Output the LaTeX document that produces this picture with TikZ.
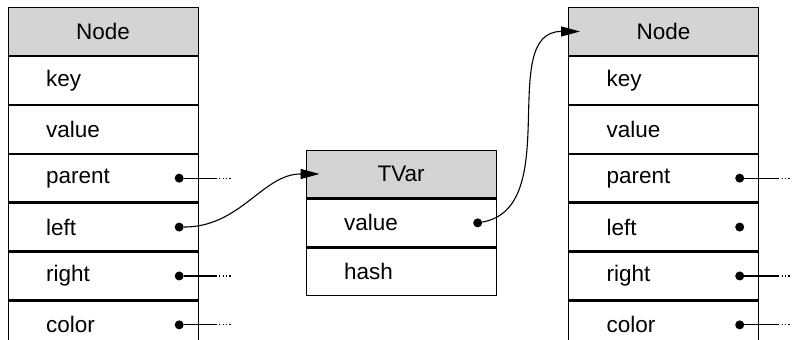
\documentclass[tikz,border=0pt]{standalone}
\usepackage{fontspec}
\setmainfont{Liberation Sans}
\usetikzlibrary{positioning,arrows.meta}

\tikzset{
  cell/.style={draw, line width=1.2bp, minimum width=190bp, minimum height=47.7bp,
    text width=114bp, inner xsep=38bp, inner ysep=0pt, align=left,
    font=\fontsize{22.5bp}{27bp}\selectfont},
  head/.style={cell, fill=black!17, align=center},
  ptr/.style={circle, fill=black, inner sep=0pt, minimum size=9bp},
  wire/.style={line width=1.1bp},
  loose/.style={line width=1.1bp, dash pattern=on 1.2bp off 2.2bp},
  link/.style={line width=1.1bp, -{Triangle[length=19bp, width=10bp]}}
}

\begin{document}
\begin{tikzpicture}[x=1bp, y=-1bp]

\clip (0,0) rectangle (792,339);

% left Node record
\node[head, anchor=north west] (lhdr) at (7.5,7) {Node};
\foreach \f [remember=\f as \p (initially hdr)] in {key,value,parent,left,right,color}
  \node[cell, below=0pt of l\p] (l\f) {\f};

% TVar record
\node[head, anchor=north west] (thdr) at (305.5,149.5) {TVar};
\node[cell, below=0pt of thdr] (tvalue) {value};
\node[cell, below=0pt of tvalue] (thash) {hash};

% right Node record
\node[head, anchor=north west] (rhdr) at (568,7) {Node};
\foreach \f [remember=\f as \p (initially hdr)] in {key,value,parent,left,right,color}
  \node[cell, below=0pt of r\p] (r\f) {\f};

% pointer fields
\foreach \f in {parent,left,right,color} {
  \node[ptr] (l\f dot) at ([xshift=-19.5bp]l\f.east) {};
  \node[ptr] (r\f dot) at ([xshift=-19.5bp]r\f.east) {};
}
\node[ptr] (tvaluedot) at ([xshift=-19bp]tvalue.east) {};

% dangling pointers
\foreach \f in {parent,right,color} {
  \coordinate (l\f end) at ([xshift=17bp]l\f.east);
  \draw[wire] (l\f dot) -- (l\f end);
  \draw[loose] (l\f end) -- ++(16,0);
  \coordinate (r\f end) at ([xshift=19bp]r\f.east);
  \draw[wire] (r\f dot) -- (r\f end);
  \draw[loose] (r\f end) -- ++(16,0);
}

% links
\coordinate (tin) at ([xshift=14bp]thdr.west);
\coordinate (rin) at ([xshift=12bp]rhdr.west);
\draw[link] (lleftdot) to[out=0, in=180] (tin);
\draw[link] (tvaluedot) to[out=10, in=180] (rin);

\end{tikzpicture}
\end{document}
